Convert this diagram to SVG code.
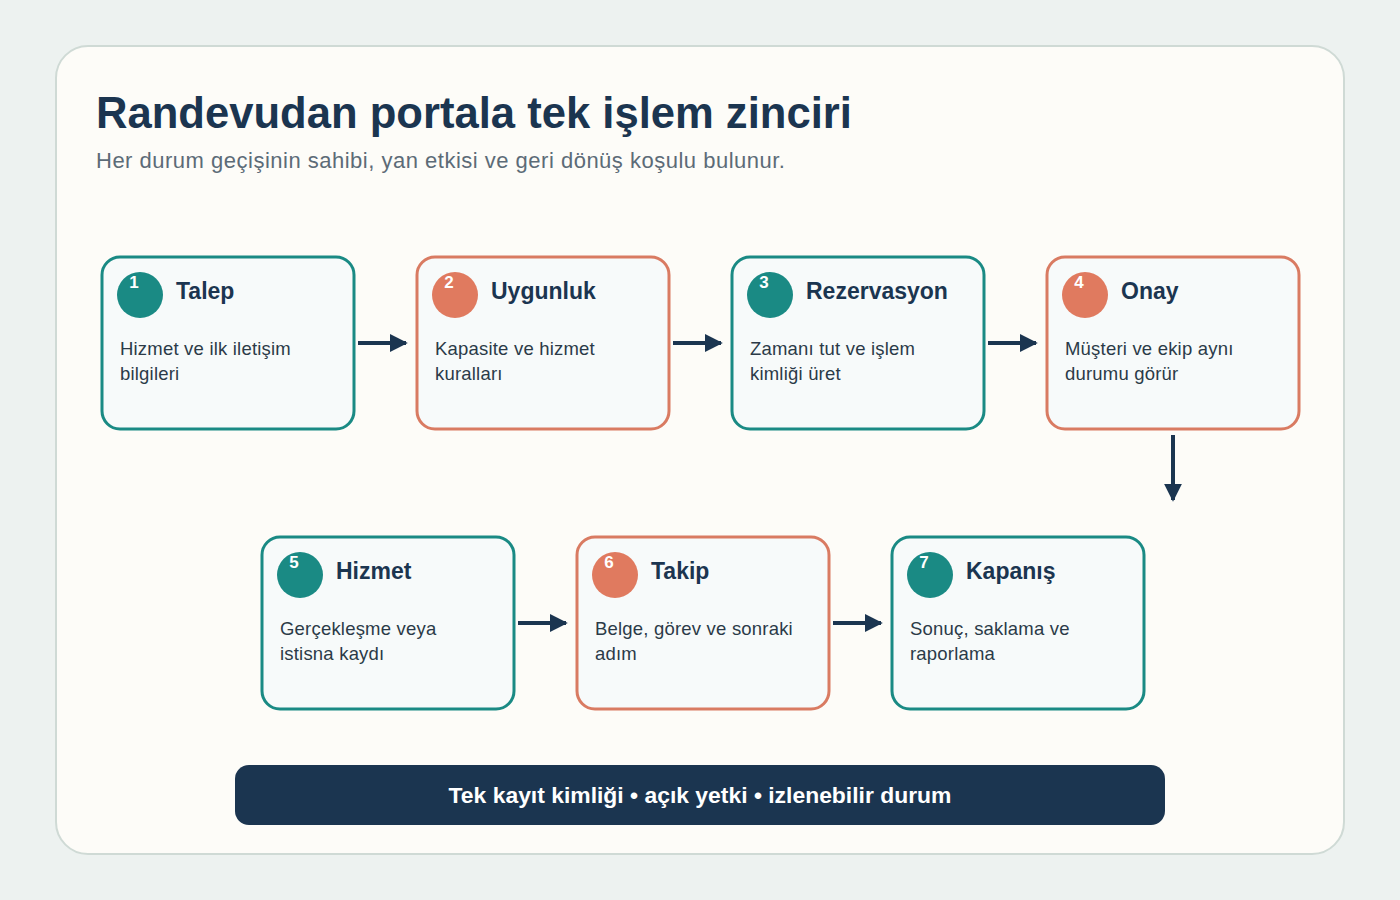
<svg xmlns="http://www.w3.org/2000/svg" width="1400" height="900" viewBox="0 0 1400 900">
<defs>
<marker id="ah" viewBox="0 0 10 10" refX="9" refY="5" markerWidth="4.5" markerHeight="4.5" orient="auto" markerUnits="strokeWidth">
<path d="M0,0 L10,5 L0,10 z" fill="#1b3550"/>
</marker>
<style>
.card{fill:#f7fafa;stroke-width:3}
.t{stroke:#1a8a84}
.c{stroke:#d97b62}
.ct{fill:#1a8a84}
.cc{fill:#e07a5f}
.num{font-family:"Liberation Sans",Arial,sans-serif;font-size:17px;font-weight:bold;fill:#ffffff;text-anchor:middle}
.ttl{font-family:"Liberation Sans",Arial,sans-serif;font-size:23px;font-weight:bold;fill:#1b3550}
.desc{font-family:"Liberation Sans",Arial,sans-serif;font-size:18.5px;letter-spacing:0.2px;fill:#2b3a48}
.conn{stroke:#1b3550;stroke-width:4;fill:none;marker-end:url(#ah)}
</style>
</defs>
<rect x="0" y="0" width="1400" height="900" fill="#edf2f0"/>
<rect x="56" y="46" width="1288" height="808" rx="32" fill="#fdfcf8" stroke="#cfdad5" stroke-width="2"/>
<text x="96" y="128" font-family="Liberation Sans,Arial,sans-serif" font-size="43.6" font-weight="bold" fill="#1b3550">Randevudan portala tek işlem zinciri</text>
<text x="96" y="168" font-family="Liberation Sans,Arial,sans-serif" font-size="22" letter-spacing="0.5" fill="#5c6b77">Her durum geçişinin sahibi, yan etkisi ve geri dönüş koşulu bulunur.</text>

<g id="connectors">
<line class="conn" x1="358" y1="343" x2="406" y2="343"/>
<line class="conn" x1="673" y1="343" x2="721" y2="343"/>
<line class="conn" x1="988" y1="343" x2="1036" y2="343"/>
<line class="conn" x1="1173" y1="435" x2="1173" y2="500"/>
<line class="conn" x1="518" y1="623" x2="566" y2="623"/>
<line class="conn" x1="833" y1="623" x2="881" y2="623"/>
</g>

<g id="node1">
<rect class="card t" x="102" y="257" width="252" height="172" rx="18"/>
<circle class="ct" cx="140" cy="295" r="23"/>
<text class="num" x="134" y="288">1</text>
<text class="ttl" x="176" y="299">Talep</text>
<text class="desc" x="120" y="355">Hizmet ve ilk iletişim</text>
<text class="desc" x="120" y="380">bilgileri</text>
</g>
<g id="node2">
<rect class="card c" x="417" y="257" width="252" height="172" rx="18"/>
<circle class="cc" cx="455" cy="295" r="23"/>
<text class="num" x="449" y="288">2</text>
<text class="ttl" x="491" y="299">Uygunluk</text>
<text class="desc" x="435" y="355">Kapasite ve hizmet</text>
<text class="desc" x="435" y="380">kuralları</text>
</g>
<g id="node3">
<rect class="card t" x="732" y="257" width="252" height="172" rx="18"/>
<circle class="ct" cx="770" cy="295" r="23"/>
<text class="num" x="764" y="288">3</text>
<text class="ttl" x="806" y="299">Rezervasyon</text>
<text class="desc" x="750" y="355">Zamanı tut ve işlem</text>
<text class="desc" x="750" y="380">kimliği üret</text>
</g>
<g id="node4">
<rect class="card c" x="1047" y="257" width="252" height="172" rx="18"/>
<circle class="cc" cx="1085" cy="295" r="23"/>
<text class="num" x="1079" y="288">4</text>
<text class="ttl" x="1121" y="299">Onay</text>
<text class="desc" x="1065" y="355">Müşteri ve ekip aynı</text>
<text class="desc" x="1065" y="380">durumu görür</text>
</g>
<g id="node5">
<rect class="card t" x="262" y="537" width="252" height="172" rx="18"/>
<circle class="ct" cx="300" cy="575" r="23"/>
<text class="num" x="294" y="568">5</text>
<text class="ttl" x="336" y="579">Hizmet</text>
<text class="desc" x="280" y="635">Gerçekleşme veya</text>
<text class="desc" x="280" y="660">istisna kaydı</text>
</g>
<g id="node6">
<rect class="card c" x="577" y="537" width="252" height="172" rx="18"/>
<circle class="cc" cx="615" cy="575" r="23"/>
<text class="num" x="609" y="568">6</text>
<text class="ttl" x="651" y="579">Takip</text>
<text class="desc" x="595" y="635">Belge, görev ve sonraki</text>
<text class="desc" x="595" y="660">adım</text>
</g>
<g id="node7">
<rect class="card t" x="892" y="537" width="252" height="172" rx="18"/>
<circle class="ct" cx="930" cy="575" r="23"/>
<text class="num" x="924" y="568">7</text>
<text class="ttl" x="966" y="579">Kapanış</text>
<text class="desc" x="910" y="635">Sonuç, saklama ve</text>
<text class="desc" x="910" y="660">raporlama</text>
</g>

<g id="banner">
<rect x="235" y="765" width="930" height="60" rx="14" fill="#1b3550"/>
<text x="700" y="803" text-anchor="middle" font-family="Liberation Sans,Arial,sans-serif" font-size="22.9" font-weight="bold" fill="#ffffff">Tek kayıt kimliği • açık yetki • izlenebilir durum</text>
</g>
</svg>
